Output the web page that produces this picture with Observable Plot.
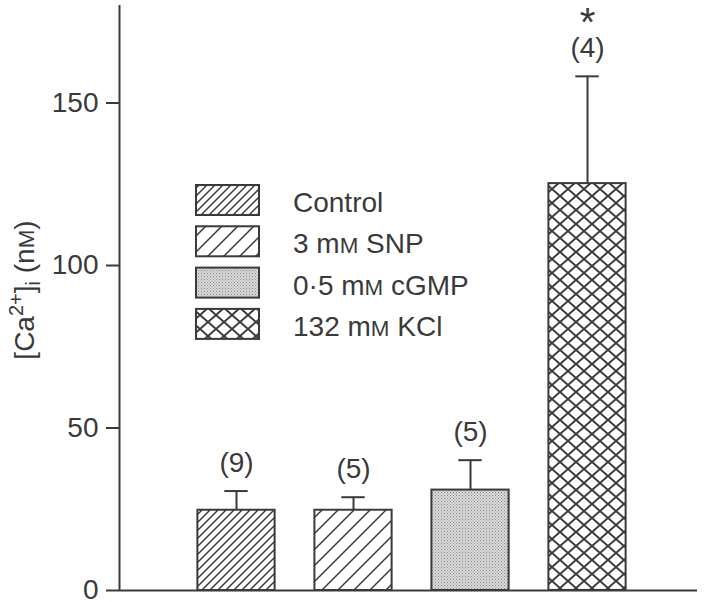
<!DOCTYPE html>
<html>
<head>
<meta charset="utf-8">
<script src="https://cdn.jsdelivr.net/npm/d3@7"></script>
<script src="https://cdn.jsdelivr.net/npm/@observablehq/plot@0.6"></script>
<style>
  html, body { margin: 0; padding: 0; background: #fff; }
  #chart svg { display: block; }
</style>
</head>
<body>
<div id="chart"></div>
<script>
const categories = ["Control", "3 mM SNP", "0·5 mM cGMP", "132 mM KCl"];
const means = [24.7, 24.7, 30.9, 125.2];
const errorTops = [30.6, 28.7, 40.1, 158.2];
const nLabels = ["(9)", "(5)", "(5)", "(4)"];
const sigLabels = ["", "", "", "*"];
const yTicks = [0, 50, 100, 150];
const patternIds = ["hatchDense", "hatchSparse", "stipple", "cross"];

const ink = "#3a3a3a";
const font = "'Liberation Sans', Arial, sans-serif";
const data = categories.map((c, i) => ({
  cat: c, pos: i + 1, mean: means[i], err: errorTops[i], n: nLabels[i], sig: sigLabels[i], pat: patternIds[i]
}));

const half = 0.33, cap = 0.1;

const svg = Plot.plot({
  width: 710,
  height: 602,
  marginLeft: 119,
  marginRight: 13,
  marginTop: 5,
  marginBottom: 12,
  style: { fontFamily: font, fontSize: "28px", color: ink, background: "#fff" },
  x: { domain: [0, 4.94], axis: null },
  y: { domain: [0, 180], axis: null },
  marks: [
    ...data.map(d => Plot.rectY([d], {
      x1: r => r.pos - half, x2: r => r.pos + half, y: "mean",
      fill: `url(#${d.pat})`, stroke: ink, strokeWidth: 2
    })),
    Plot.ruleX(data, { x: "pos", y1: "mean", y2: "err", stroke: ink, strokeWidth: 2 }),
    Plot.ruleY(data, { y: "err", x1: d => d.pos - cap, x2: d => d.pos + cap, stroke: ink, strokeWidth: 2 }),
    Plot.text(data, { x: "pos", y: "err", text: "n", dy: -28, fontSize: 28, fill: ink }),
    Plot.text(data, { x: "pos", y: "err", text: "sig", dy: -53, fontSize: 40, lineAnchor: "middle", fill: ink }),
    Plot.axisY({ ticks: yTicks, tickSize: 13, tickPadding: 8, label: null, fontSize: 28, stroke: ink, strokeWidth: 2, fill: ink }),
    Plot.ruleX([0], { y1: 0, y2: 180, stroke: ink, strokeWidth: 2 }),
    Plot.ruleY([0], { stroke: ink, strokeWidth: 2 })
  ]
});

// Patterns
const s = d3.select(svg);
const defs = s.insert("defs", ":first-child");
function hatch(id, step) {
  const p = defs.append("pattern").attr("id", id).attr("patternUnits", "userSpaceOnUse")
    .attr("width", step).attr("height", step);
  p.append("rect").attr("width", step).attr("height", step).attr("fill", "#fff");
  p.append("path").attr("d", `M0,${step} L${step},0 M${-step/2},${step/2} L${step/2},${-step/2} M${step/2},${step*1.5} L${step*1.5},${step/2}`)
    .attr("stroke", ink).attr("stroke-width", 1.5);
}
hatch("hatchDense", 8);
hatch("hatchSparse", 16);
{
  const p = defs.append("pattern").attr("id", "stipple").attr("patternUnits", "userSpaceOnUse")
    .attr("width", 3).attr("height", 3);
  p.append("rect").attr("width", 3).attr("height", 3).attr("fill", "#d9d9d9");
  p.append("rect").attr("x", 0).attr("y", 0).attr("width", 1).attr("height", 1).attr("fill", "#8a8a8a");
  p.append("rect").attr("x", 1.5).attr("y", 1.5).attr("width", 1).attr("height", 1).attr("fill", "#9a9a9a");
}
{
  const w = 16, h = 14;
  const p = defs.append("pattern").attr("id", "cross").attr("patternUnits", "userSpaceOnUse")
    .attr("width", w).attr("height", h);
  p.append("rect").attr("width", w).attr("height", h).attr("fill", "#fff");
  p.append("path").attr("d", `M0,0 L${w},${h} M0,${h} L${w},0`)
    .attr("stroke", ink).attr("stroke-width", 2);
}

// small-caps "M" helper
function writeLabel(textSel, label) {
  const parts = label.split(/(?<=[mn])M/);
  parts.forEach((part, i) => {
    textSel.append("tspan").text(part);
    if (i < parts.length - 1) textSel.append("tspan").attr("font-size", "80%").text("M");
  });
}

// Legend
const lg = s.append("g").attr("font-family", font).attr("font-size", 28).attr("fill", ink).attr("text-anchor", "start");
data.forEach((d, i) => {
  const y0 = 185 + i * 41.3;
  lg.append("rect").attr("x", 196).attr("y", y0).attr("width", 63).attr("height", 30)
    .attr("fill", `url(#${d.pat})`).attr("stroke", ink).attr("stroke-width", 2);
  const t = lg.append("text").attr("x", 293).attr("y", y0 + 27);
  writeLabel(t, d.cat);
});

// Y axis label
const yl = s.append("text")
  .attr("transform", "translate(34,290) rotate(-90)")
  .attr("text-anchor", "middle")
  .attr("font-family", font)
  .attr("font-size", 28).attr("fill", ink);
yl.append("tspan").text("[Ca");
yl.append("tspan").attr("font-size", 20).attr("dy", -11).text("2+");
yl.append("tspan").attr("dy", 11).text("]");
yl.append("tspan").attr("font-size", 20).attr("dy", 6).text("i");
yl.append("tspan").attr("dy", -6).text(" (n");
yl.append("tspan").attr("font-size", "80%").text("M");
yl.append("tspan").text(")");

document.getElementById("chart").appendChild(svg);
</script>
</body>
</html>
